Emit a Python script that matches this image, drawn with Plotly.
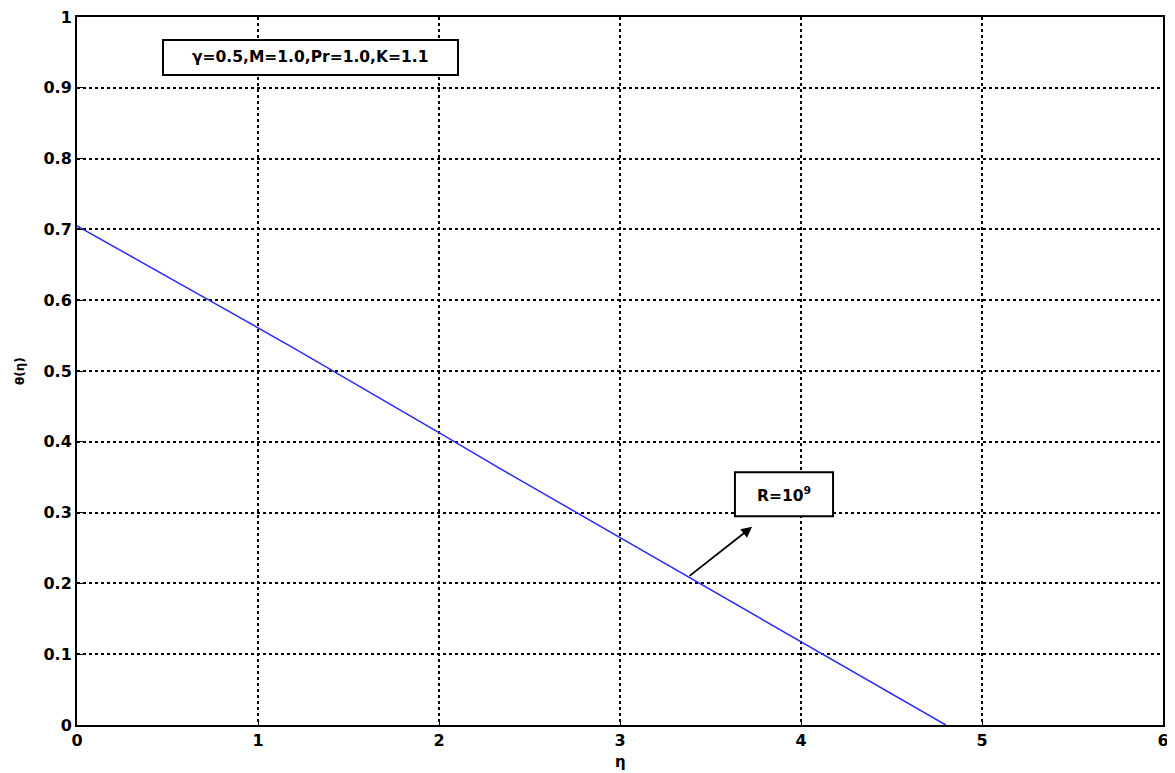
import plotly.graph_objects as go

eta = [0.0, 0.4, 0.8, 1.2, 1.6, 2.0, 2.4, 2.8, 3.2, 3.6, 4.0, 4.4, 4.8]
theta = [0.705, 0.648, 0.590, 0.532, 0.473, 0.413, 0.353, 0.294, 0.236, 0.177, 0.118, 0.059, 0.0]

x_ticks = [0, 1, 2, 3, 4, 5, 6]
y_ticks = [0, 0.1, 0.2, 0.3, 0.4, 0.5, 0.6, 0.7, 0.8, 0.9, 1]
y_tick_text = ["0", "0.1", "0.2", "0.3", "0.4", "0.5", "0.6", "0.7", "0.8", "0.9", "1"]

FAM = "DejaVu Sans"
font = dict(family=FAM, size=16, color="black")

fig = go.Figure()
fig.add_trace(go.Scatter(x=eta, y=theta, mode="lines",
                         line=dict(color="#2a2aff", width=1.5), showlegend=False))

axis_common = dict(showgrid=True, gridcolor="black", griddash="dot", gridwidth=1.5,
                   showline=True, linecolor="black", linewidth=2, mirror=True,
                   ticks="inside", ticklen=6, tickcolor="black", zeroline=False,
                   automargin=False, ticklabeloverflow="allow",
                   tickfont=dict(family=FAM, size=16, color="black"))

fig.update_layout(
    width=1175, height=773,
    margin=dict(l=69, r=20, t=9, b=56),
    paper_bgcolor="white", plot_bgcolor="white",
    font=font,
    xaxis=dict(range=[0, 6], tickvals=x_ticks, ticktext=[f"<b>{v}</b>" for v in x_ticks],
               **axis_common),
    yaxis=dict(range=[0, 1.0001], tickvals=y_ticks, ticktext=[f"<b>{t}</b>" for t in y_tick_text],
               **axis_common),
)

# axis titles
fig.add_annotation(xref="paper", yref="paper", x=0.5, y=-0.052, text="<b>η</b>",
                   showarrow=False, font=dict(family=FAM, size=15), xanchor="center", yanchor="middle")
fig.add_annotation(xref="paper", yref="paper", x=-0.0525, y=0.5, text="<b>θ(η)</b>",
                   showarrow=False, font=dict(family=FAM, size=12), textangle=-90,
                   xanchor="center", yanchor="middle")

# parameter box
fig.add_shape(type="rect", x0=0.475, x1=2.105, y0=0.918, y1=0.9675,
              line=dict(color="black", width=2), fillcolor="white")
fig.add_annotation(x=1.29, y=0.943, text="<b>γ=0.5,M=1.0,Pr=1.0,K=1.1</b>",
                   showarrow=False, font=dict(family=FAM, size=15.5))

# R label box
fig.add_shape(type="rect", x0=3.635, x1=4.177, y0=0.295, y1=0.357,
              line=dict(color="black", width=2), fillcolor="white")
fig.add_annotation(x=3.906, y=0.326, text="<b>R=10<sup>9</sup></b>",
                   showarrow=False, font=dict(family=FAM, size=15.5))

# arrow
fig.add_annotation(x=3.73, y=0.28, ax=3.376, ay=0.209, xref="x", yref="y",
                   axref="x", ayref="y", text="", showarrow=True,
                   arrowhead=2, arrowsize=1.2, arrowwidth=1.8, arrowcolor="black")

fig.write_html("out.html")
